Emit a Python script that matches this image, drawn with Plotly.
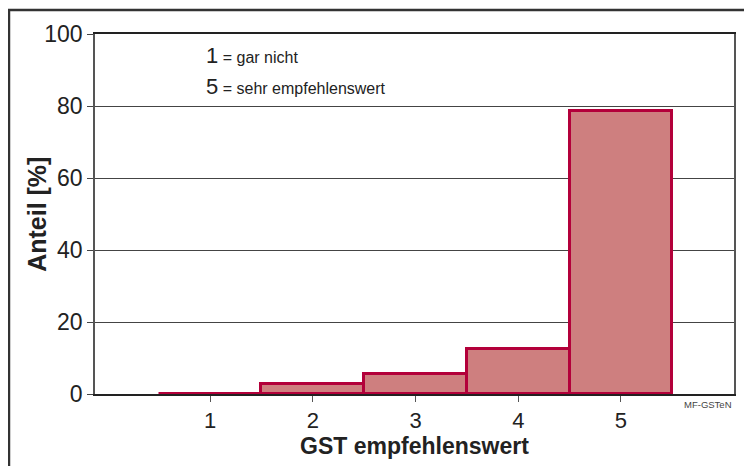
import plotly.graph_objects as go

# GST empfehlenswert: 1 = gar nicht ... 5 = sehr empfehlenswert
bewertung = [1, 2, 3, 4, 5]
anteil = [0.1, 2.8, 5.6, 12.6, 78.5]
y_ticks = [0, 20, 40, 60, 80, 100]

fig = go.Figure()
fig.add_trace(go.Bar(x=bewertung, y=anteil, width=1,
                     marker=dict(color="#CE7F7F", line=dict(color="#B3003A", width=3))))

# the page body has an 8px margin, so margins are shifted by that
fig.update_layout(
    width=752, height=466,
    margin=dict(l=87, r=26, t=26, b=80),
    paper_bgcolor="white", plot_bgcolor="white",
    font=dict(family="Liberation Sans, Arial, sans-serif", color="#222"),
    showlegend=False, bargap=0,
)
fig.update_xaxes(range=[-0.12, 6.1], tickvals=bewertung, ticks="outside", ticklen=6,
                 tickcolor="#555", tickfont=dict(size=22), showgrid=False,
                 showline=True, linecolor="#222", linewidth=1.5, mirror=True,
                 title=dict(text="<b>GST empfehlenswert</b>", font=dict(size=23), standoff=6))
fig.update_yaxes(range=[0, 100], tickvals=y_ticks, ticks="outside", ticklen=6,
                 tickcolor="#444", tickfont=dict(size=23), showgrid=True,
                 gridcolor="#444", gridwidth=1, zeroline=False,
                 showline=True, linecolor="#555", linewidth=1.5, mirror=True)

# y title placed by hand, it sits closer to the tick labels than standoff allows
fig.add_annotation(x=-0.091, y=0.5, xref="paper", yref="paper", xanchor="center", yanchor="middle",
                   text="<b>Anteil [%]</b>", textangle=-90, showarrow=False,
                   font=dict(size=25, color="#222"))

# legend text for the scale
fig.add_annotation(x=0.17, y=0.939, xref="paper", yref="paper", xanchor="left", yanchor="middle",
                   text="1<span style='font-size:16px'> = gar nicht</span>",
                   showarrow=False, font=dict(size=22, color="#222"))
fig.add_annotation(x=0.17, y=0.853, xref="paper", yref="paper", xanchor="left", yanchor="middle",
                   text="5<span style='font-size:16px'> = sehr empfehlenswert</span>",
                   showarrow=False, font=dict(size=22, color="#222"))
fig.add_annotation(x=1.0, y=-0.028, xref="paper", yref="paper", xanchor="right", yanchor="middle",
                   text="MF-GSTeN", showarrow=False, font=dict(size=9.5, color="#444"))

# outer frame
fig.add_shape(type="rect", xref="paper", yref="paper", x0=-0.1346, y0=-0.3, x1=1.06, y1=1.067,
              line=dict(color="#333", width=2.5), layer="below")

fig.write_html("out.html")
